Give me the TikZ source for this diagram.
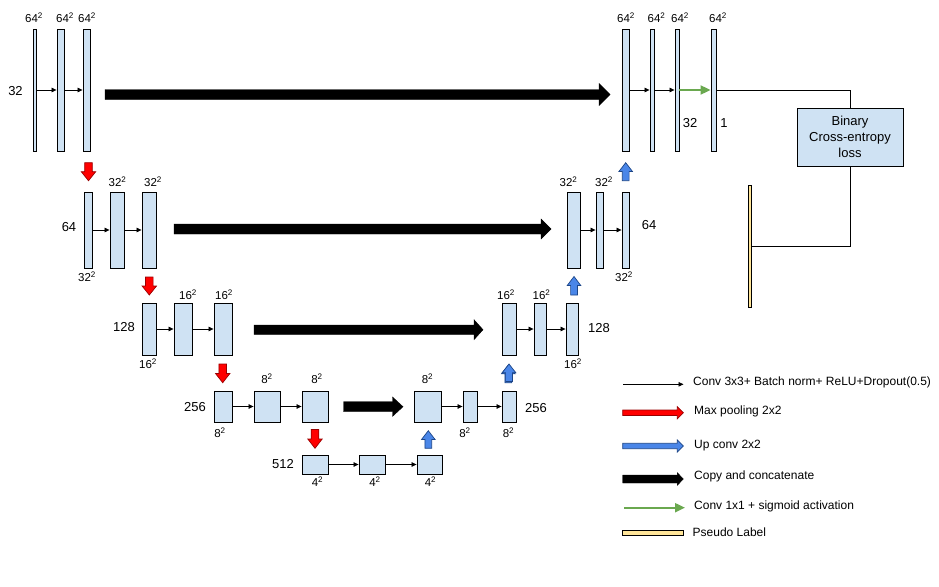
\documentclass[tikz,border=0pt]{standalone}
\usepackage{fontspec}
\setmainfont{Liberation Sans}
\usetikzlibrary{arrows.meta}
\definecolor{lblue}{HTML}{CFE2F3}
\definecolor{pyellow}{HTML}{FFE599}
\definecolor{uparr}{HTML}{4A86E8}
\definecolor{uparrd}{HTML}{1C4587}
\definecolor{dnarr}{HTML}{FF0000}
\definecolor{dnarrd}{HTML}{990000}
\definecolor{sgreen}{HTML}{6AA84F}
% horizontal fat arrow: style, xtail, xbase, xtip, y, shaft half, head half
\newcommand{\harr}[7]{\path[#1] ({#2},{#5-#6}) -- ({#3},{#5-#6}) -- ({#3},{#5-#7}) -- ({#4},{#5}) -- ({#3},{#5+#7}) -- ({#3},{#5+#6}) -- ({#2},{#5+#6}) -- cycle;}
% vertical fat arrow: style, ytail, ybase, ytip, x, shaft half, head half
\newcommand{\varr}[7]{\path[#1] ({#5-#6},{#2}) -- ({#5-#6},{#3}) -- ({#5-#7},{#3}) -- ({#5},{#4}) -- ({#5+#7},{#3}) -- ({#5+#6},{#3}) -- ({#5+#6},{#2}) -- cycle;}
\tikzset{
  layer/.style={draw=black, fill=lblue, line width=0.9pt, inner sep=0pt, rectangle},
  conv/.style={line width=0.7pt, -{Triangle[length=5pt,width=4.5pt]}},
  sigm/.style={draw=sgreen, line width=2pt, -{Triangle[length=10pt,width=9pt]}},
  wire/.style={line width=0.9pt},
  redarr/.style={fill=dnarr, draw=dnarrd, line width=0.7pt},
  bluearr/.style={fill=uparr, draw=uparrd, line width=0.7pt},
  blackarr/.style={fill=black, draw=black, line width=0.4pt},
  dimlab/.style={inner sep=0pt, font=\fontsize{11.5}{12}\selectfont},
  chlab/.style={inner sep=0pt, font=\fontsize{13}{14}\selectfont},
  leglab/.style={inner sep=0pt, anchor=west, font=\fontsize{12}{14}\selectfont},
}
\newcommand{\sq}[1]{#1\textsuperscript{2}}
\begin{document}
\begin{tikzpicture}[x=1pt,y=-1pt]
\useasboundingbox (0,0) rectangle (939,586);
% ---------- level 1 ----------
\node[layer, minimum width=3pt, minimum height=122pt] (a1) at (34.5,90) {};
\node[layer, minimum width=7pt, minimum height=122pt] (a2) at (60.5,90) {};
\node[layer, minimum width=7pt, minimum height=122pt] (a3) at (86.5,90) {};
\node[layer, minimum width=7pt, minimum height=122pt] (r1a) at (625.5,90) {};
\node[layer, minimum width=4pt, minimum height=122pt] (r1b) at (652,90) {};
\node[layer, minimum width=4pt, minimum height=122pt] (r1c) at (677,90) {};
\node[layer, minimum width=5pt, minimum height=122pt] (out) at (713.5,90) {};
\draw[conv] (a1.east) -- (a2.west);
\draw[conv] (a2.east) -- (a3.west);
\draw[conv] (r1a.east) -- (r1b.west);
\draw[conv] (r1b.east) -- (r1c.west);
\draw[sigm] (r1c.east) -- (out.west);
\node[dimlab] (t1a) at (34,18) {\sq{64}};
\node[dimlab] (t1b) at (65,18) {\sq{64}};
\node[dimlab] (t1c) at (87,18) {\sq{64}};
\node[dimlab] (t1d) at (626,18) {\sq{64}};
\node[dimlab] (t1e) at (656.5,18) {\sq{64}};
\node[dimlab] (t1f) at (680,18) {\sq{64}};
\node[dimlab] (t1g) at (718,18) {\sq{64}};
\node[chlab] (c1a) at (15.5,91) {32};
\node[chlab] (c1b) at (690,123) {32};
\node[chlab] (c1c) at (724,123) {1};
% loss
\node[layer, minimum width=106pt, minimum height=58pt, align=center, font=\fontsize{13}{15.8}\selectfont] (loss) at (850,137) {Binary\\Cross-entropy\\loss};
\node[draw=black, fill=pyellow, line width=0.9pt, inner sep=0pt, minimum width=3pt, minimum height=122pt] (bar) at (749.5,246) {};
\draw[wire] (out.east) -| (loss.north);
\draw[wire] (loss.south) |- (bar.east);
% ---------- level 2 ----------
\node[layer, minimum width=8.5pt, minimum height=76pt] (b1) at (88.5,230) {};
\node[layer, minimum width=14pt, minimum height=76pt] (b2) at (117,230) {};
\node[layer, minimum width=14pt, minimum height=76pt] (b3) at (149,230) {};
\node[layer, minimum width=13pt, minimum height=76pt] (r2a) at (573.5,230) {};
\node[layer, minimum width=7pt, minimum height=76pt] (r2b) at (599.5,230) {};
\node[layer, minimum width=7pt, minimum height=76pt] (r2c) at (625.5,230) {};
\draw[conv] (b1.east) -- (b2.west);
\draw[conv] (b2.east) -- (b3.west);
\draw[conv] (r2a.east) -- (r2b.west);
\draw[conv] (r2b.east) -- (r2c.west);
\node[dimlab] (t2a) at (117.5,182) {\sq{32}};
\node[dimlab] (t2b) at (153,182) {\sq{32}};
\node[dimlab] (t2c) at (87,277) {\sq{32}};
\node[dimlab] (t2d) at (568.5,182) {\sq{32}};
\node[dimlab] (t2e) at (604,182) {\sq{32}};
\node[dimlab] (t2f) at (624,277) {\sq{32}};
\node[chlab] (c2a) at (69,227) {64};
\node[chlab] (c2b) at (649,225) {64};
% ---------- level 3 ----------
\node[layer, minimum width=14pt, minimum height=52pt] (d1) at (149,329) {};
\node[layer, minimum width=18pt, minimum height=52pt] (d2) at (183,329) {};
\node[layer, minimum width=18pt, minimum height=52pt] (d3) at (223,329) {};
\node[layer, minimum width=14pt, minimum height=52pt] (r3a) at (509,329) {};
\node[layer, minimum width=12pt, minimum height=52pt] (r3b) at (540,329) {};
\node[layer, minimum width=12pt, minimum height=52pt] (r3c) at (572,329) {};
\draw[conv] (d1.east) -- (d2.west);
\draw[conv] (d2.east) -- (d3.west);
\draw[conv] (r3a.east) -- (r3b.west);
\draw[conv] (r3b.east) -- (r3c.west);
\node[dimlab] (t3a) at (188,295) {\sq{16}};
\node[dimlab] (t3b) at (224,295) {\sq{16}};
\node[dimlab] (t3c) at (148,364) {\sq{16}};
\node[dimlab] (t3d) at (506,295) {\sq{16}};
\node[dimlab] (t3e) at (541.5,295) {\sq{16}};
\node[dimlab] (t3f) at (573,364) {\sq{16}};
\node[chlab] (c3a) at (124,327) {128};
\node[chlab] (c3b) at (599,328) {128};
% ---------- level 4 ----------
\node[layer, minimum width=18pt, minimum height=31pt] (e1) at (223,406.5) {};
\node[layer, minimum width=26pt, minimum height=31pt] (e2) at (267,406.5) {};
\node[layer, minimum width=26pt, minimum height=31pt] (e3) at (315,406.5) {};
\node[layer, minimum width=27pt, minimum height=31pt] (r4a) at (427.5,406.5) {};
\node[layer, minimum width=14pt, minimum height=31pt] (r4b) at (470,406.5) {};
\node[layer, minimum width=14pt, minimum height=31pt] (r4c) at (509,406.5) {};
\draw[conv] (e1.east) -- (e2.west);
\draw[conv] (e2.east) -- (e3.west);
\draw[conv] (r4a.east) -- (r4b.west);
\draw[conv] (r4b.east) -- (r4c.west);
\node[dimlab] (t4a) at (267,379) {\sq{8}};
\node[dimlab] (t4b) at (317,379) {\sq{8}};
\node[dimlab] (t4c) at (220,432.5) {\sq{8}};
\node[dimlab] (t4d) at (427.5,379) {\sq{8}};
\node[dimlab] (t4e) at (465,432.5) {\sq{8}};
\node[dimlab] (t4f) at (508.5,432.5) {\sq{8}};
\node[chlab] (c4a) at (195,407) {256};
\node[chlab] (c4b) at (536,408) {256};
% ---------- level 5 ----------
\node[layer, minimum width=26pt, minimum height=19pt] (f1) at (315,464.5) {};
\node[layer, minimum width=26pt, minimum height=19pt] (f2) at (372,464.5) {};
\node[layer, minimum width=25pt, minimum height=19pt] (f3) at (429.5,464.5) {};
\draw[conv] (f1.east) -- (f2.west);
\draw[conv] (f2.east) -- (f3.west);
\node[dimlab] (t5a) at (317.5,482) {\sq{4}};
\node[dimlab] (t5b) at (375,482) {\sq{4}};
\node[dimlab] (t5c) at (430.5,482) {\sq{4}};
\node[chlab] (c5a) at (283,464.5) {512};
% ---------- copy arrows ----------
\harr{blackarr}{105}{599}{610}{94.5}{5}{11}
\harr{blackarr}{174}{541}{551}{229}{5}{10}
\harr{blackarr}{254}{474}{483}{329.7}{4.7}{10}
\harr{blackarr}{343.5}{392.5}{403}{406.7}{5}{9.7}
% ---------- pooling arrows ----------
\varr{redarr}{162.7}{171.7}{180.7}{88.5}{3.8}{7.2}
\varr{redarr}{277}{286}{295}{149.3}{3.8}{7.2}
\varr{redarr}{364}{373.5}{382.7}{222.7}{3.8}{7.2}
\varr{redarr}{429.5}{439}{448.3}{315}{3.8}{7.2}
% ---------- up-conv arrows ----------
\varr{bluearr}{448.3}{439.5}{430.7}{428.3}{3.4}{6.8}
\varr{bluearr}{382.7}{373.8}{365}{508.3}{3.4}{6.8}
\varr{bluearr}{381.5}{372.7}{364}{509}{3.4}{6.8}
\varr{bluearr}{295}{285.5}{276.5}{574}{3.4}{6.8}
\varr{bluearr}{180.7}{171.5}{162.7}{625.7}{3.4}{6.8}
% ---------- legend ----------
\coordinate (g1s) at (623,384.3);
\coordinate (g1e) at (683.5,384.3);
\draw[conv] (g1s) -- (g1e);
\node[leglab] (g1t) at (693,382.7) {Conv 3x3+ Batch norm+ ReLU+Dropout(0.5)};
\harr{redarr}{622.7}{677.3}{683.3}{412.7}{2.7}{6}
\node[leglab] (g2t) at (694,411.7) {Max pooling 2x2};
\harr{bluearr}{622.7}{677.3}{683.3}{446}{2.7}{6}
\node[leglab] (g3t) at (694,445.7) {Up conv 2x2};
\harr{blackarr}{622.7}{677.3}{683.3}{479}{4}{6.3}
\node[leglab] (g4t) at (694,476.7) {Copy and concatenate};
\coordinate (g5s) at (624,507.7);
\coordinate (g5e) at (685,507.7);
\draw[sigm] (g5s) -- (g5e);
\node[leglab] (g5t) at (694,506) {Conv 1x1 + sigmoid activation};
\node[draw=black, fill=pyellow, line width=0.9pt, inner sep=0pt, minimum width=61pt, minimum height=4.5pt] (g6b) at (652.5,533) {};
\node[leglab] (g6t) at (692.5,532.3) {Pseudo Label};
\end{tikzpicture}
\end{document}
